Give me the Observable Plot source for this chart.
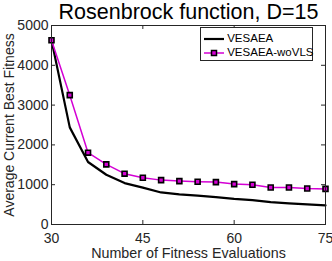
<!DOCTYPE html>
<html><head><meta charset="utf-8">
<script src="https://cdn.jsdelivr.net/npm/d3@7"></script>
<script src="https://cdn.jsdelivr.net/npm/@observablehq/plot@0.6"></script>
<style>
body{margin:0;background:#fff;font-family:"Liberation Sans",Arial,sans-serif;}
#wrap{position:relative;width:332px;height:261px;}
#legend{position:absolute;left:200px;top:27px;width:113px;height:34px;border:1px solid #262626;background:#fff;font-size:11.5px;color:#000;box-sizing:border-box;}
#legend div{position:absolute;left:3px;height:14px;line-height:14px;white-space:nowrap;}
#legend svg{vertical-align:middle;}
</style></head>
<body><div id="wrap"><div id="legend"></div></div>
<script>
const title = "Rosenbrock function, D=15";
const xLabel = "Number of Fitness Evaluations";
const yLabel = "Average Current Best Fitness";
const evals = [30,33,36,39,42,45,48,51,54,57,60,63,66,69,72,75];
const vesaea = [4630,2440,1570,1250,1040,925,805,755,725,690,645,612,560,530,505,480];
const woVLS = [4630,3250,1805,1510,1277,1175,1115,1090,1075,1065,1015,1000,930,930,905,895];
const seriesNames = ["VESAEA","VESAEA-woVLS"];
const xTicks = [30,45,60,75];
const yTicks = [0,1000,2000,3000,4000,5000];

const data = [
  ...evals.map((x,i)=>({x, y:vesaea[i], s:seriesNames[0]})),
  ...evals.map((x,i)=>({x, y:woVLS[i], s:seriesNames[1]}))
];
const W=332,H=261,mL=51,mR=7,mT=25,mB=37;
const pw=W-mL-mR, ph=H-mT-mB, tk=4;
const ax="#262626";
const chart = Plot.plot({
  width:W,height:H,marginLeft:mL,marginRight:mR,marginTop:mT,marginBottom:mB,
  style:{fontFamily:"Liberation Sans, Arial, sans-serif",fontSize:"14px",color:ax,background:"#fff",overflow:"visible"},
  x:{domain:[30,75]},
  y:{domain:[0,5000]},
  marks:[
    Plot.line(data.filter(d=>d.s===seriesNames[0]),{x:"x",y:"y",stroke:"#000",strokeWidth:2.2}),
    Plot.line(data.filter(d=>d.s===seriesNames[1]),{x:"x",y:"y",stroke:"#d400d4",strokeWidth:1.5}),
    Plot.dot(data.filter(d=>d.s===seriesNames[1]),{x:"x",y:"y",symbol:"square",r:2.8,stroke:"#000",strokeWidth:1.6,fill:"#d400d4"}),
    Plot.tickX(xTicks,{x:d=>d,insetTop:ph-tk,stroke:ax}),
    Plot.tickX(xTicks,{x:d=>d,insetBottom:ph-tk,stroke:ax}),
    Plot.tickY(yTicks,{y:d=>d,insetRight:pw-tk,stroke:ax}),
    Plot.tickY(yTicks,{y:d=>d,insetLeft:pw-tk,stroke:ax}),
    Plot.frame({stroke:ax,strokeWidth:1}),
    Plot.axisX(xTicks,{tickSize:0,tickPadding:9,label:null,fontSize:14,fill:ax,tickFormat:d3.format("d")}),
    Plot.axisY(yTicks,{tickSize:0,tickPadding:3,label:null,fontSize:14,fill:ax,tickFormat:d3.format("d")}),
    Plot.text([title],{frameAnchor:"top",textAnchor:"middle",lineAnchor:"middle",dy:-13.5,fontSize:21.5,fill:"#000"}),
    Plot.text([xLabel],{frameAnchor:"bottom",textAnchor:"middle",lineAnchor:"middle",dy:29,fontSize:14.3,fill:ax}),
    Plot.text([yLabel],{frameAnchor:"left",textAnchor:"middle",lineAnchor:"middle",dx:-42,rotate:-90,fontSize:14,fill:ax})
  ]
});
document.getElementById("wrap").prepend(chart);
const lg=document.getElementById("legend");
lg.innerHTML =
 `<div style="top:3px"><svg width="20" height="10"><line x1="0" y1="5" x2="20" y2="5" stroke="#000" stroke-width="2.2"/></svg> ${seriesNames[0]}</div>`+
 `<div style="top:17px"><svg width="20" height="10"><line x1="0" y1="5" x2="20" y2="5" stroke="#d400d4" stroke-width="1.5"/><rect x="7.5" y="2.5" width="5" height="5" fill="#d400d4" stroke="#000" stroke-width="1.5"/></svg> ${seriesNames[1]}</div>`;
</script></body></html>
